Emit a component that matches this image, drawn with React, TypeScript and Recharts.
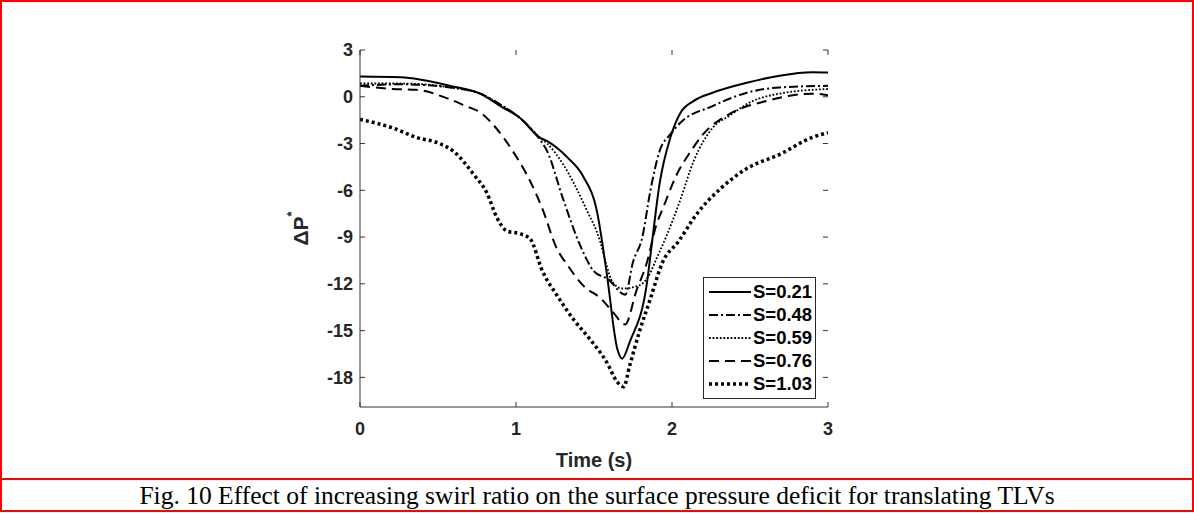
import React from "react";
import { LineChart, Line, XAxis, YAxis, Legend, ReferenceLine } from "recharts";

// S = 0.21 (solid)
const t021 = [0, 0.26, 0.58, 0.77, 0.9, 1.03, 1.15, 1.2, 1.33, 1.43, 1.52, 1.58, 1.65, 1.68, 1.73, 1.84, 1.87, 1.92, 1.99, 2.05, 2.14, 2.26, 2.48, 2.69, 2.9, 3];
const p021 = [1.3, 1.25, 0.7, 0.2, -0.6, -1.4, -2.6, -2.85, -3.9, -5.1, -7.4, -11.2, -16.2, -16.8, -15.7, -11.9, -9.5, -5.6, -2.6, -1.1, -0.26, 0.26, 0.9, 1.35, 1.57, 1.55];

// S = 0.48 (dash-dot)
const t048 = [0, 0.26, 0.58, 0.77, 0.9, 1.03, 1.15, 1.2, 1.3, 1.41, 1.5, 1.59, 1.7, 1.75, 1.81, 1.86, 1.92, 1.99, 2.05, 2.26, 2.48, 2.69, 3];
const p048 = [0.7, 0.8, 0.6, 0.2, -0.5, -1.4, -2.7, -3.5, -6.5, -9.5, -11.2, -11.7, -12.7, -10.6, -9.0, -6.1, -3.5, -2.4, -1.7, -0.6, 0.26, 0.6, 0.7];

// S = 0.59 (dotted)
const t059 = [0, 0.26, 0.58, 0.77, 0.9, 1.03, 1.15, 1.2, 1.3, 1.45, 1.54, 1.58, 1.62, 1.68, 1.79, 1.85, 1.9, 1.97, 2.05, 2.14, 2.26, 2.37, 2.52, 2.69, 3];
const p059 = [0.85, 0.85, 0.6, 0.2, -0.5, -1.4, -2.6, -3.0, -4.3, -7.2, -9.3, -10.8, -11.9, -12.3, -12.1, -11.5, -10.4, -8.8, -6.7, -4.1, -2.0, -1.2, -0.26, 0.2, 0.5];

// S = 0.76 (dashed)
const t076 = [0, 0.21, 0.36, 0.56, 0.68, 0.77, 0.88, 0.98, 1.09, 1.17, 1.26, 1.33, 1.43, 1.55, 1.62, 1.7, 1.77, 1.84, 1.9, 1.94, 2.03, 2.12, 2.2, 2.37, 2.61, 2.9, 3];
const p076 = [0.7, 0.5, 0.45, -0.1, -0.6, -1.0, -2.1, -3.5, -5.4, -7.2, -9.7, -10.8, -12.1, -13.0, -13.8, -14.6, -12.5, -10.6, -8.2, -7.2, -5.0, -3.5, -2.4, -1.1, -0.26, 0.2, 0.1];

// S = 1.03 (heavy dotted)
const t103 = [0, 0.21, 0.36, 0.51, 0.6, 0.73, 0.81, 0.88, 0.94, 1.03, 1.09, 1.17, 1.26, 1.37, 1.47, 1.58, 1.65, 1.69, 1.73, 1.79, 1.86, 1.94, 2.04, 2.16, 2.31, 2.48, 2.69, 2.9, 3];
const p103 = [-1.45, -2.0, -2.6, -3.0, -3.5, -5.0, -6.1, -7.8, -8.6, -8.8, -9.1, -11.2, -12.7, -14.3, -15.5, -17.0, -18.3, -18.6, -17.2, -15.1, -13.0, -10.6, -9.3, -7.5, -5.9, -4.6, -3.7, -2.6, -2.3];

const xTicks = [0, 1, 2, 3];
const yTicks = [3, 0, -3, -6, -9, -12, -15, -18];
const X_DOMAIN: [number, number] = [0, 3];
const Y_DOMAIN: [number, number] = [-19.9, 3];

const toRows = (t: number[], p: number[]) => t.map((v, i) => ({ t: v, p: p[i] }));

const series = [
    { name: "S=0.21", data: toRows(t021, p021), width: 2, dash: undefined as string | undefined },
    { name: "S=0.48", data: toRows(t048, p048), width: 2, dash: "9 3 2 3" },
    { name: "S=0.59", data: toRows(t059, p059), width: 1.8, dash: "1.8 1.8" },
    { name: "S=0.76", data: toRows(t076, p076), width: 2, dash: "10 6" },
    { name: "S=1.03", data: toRows(t103, p103), width: 3.5, dash: "3 3" },
];

const AXIS = "#333333";
const tickStyle = { fill: "#262626", fontSize: 18, fontWeight: 700, fontFamily: "'Liberation Sans', Arial, sans-serif" };

// inward (MATLAB style) tick marks, length in data units (~5px)
const xTickLen = 0.32;
const yTickLen = 0.032;
const tickSegments = [
    ...xTicks.map((t) => [{ x: t, y: Y_DOMAIN[0] }, { x: t, y: Y_DOMAIN[0] + xTickLen }]),
    ...xTicks.map((t) => [{ x: t, y: Y_DOMAIN[1] }, { x: t, y: Y_DOMAIN[1] - xTickLen }]),
    ...yTicks.map((v) => [{ x: X_DOMAIN[0], y: v }, { x: X_DOMAIN[0] + yTickLen, y: v }]),
    ...yTicks.map((v) => [{ x: X_DOMAIN[1], y: v }, { x: X_DOMAIN[1] - yTickLen, y: v }]),
];

const LegendBox = () => (
    <div
        style={{
            border: "1px solid #262626",
            background: "#fff",
            padding: "2px 3px 3px 4px",
            fontFamily: "'Liberation Sans', Arial, sans-serif",
            fontWeight: 700,
            fontSize: 18.5,
            color: "#000",
        }}
    >
        {series.map((s) => (
            <div key={s.name} style={{ display: "flex", alignItems: "center", height: 23 }}>
                <svg width={44} height={10} style={{ marginRight: 1 }}>
                    <line x1={1} y1={5} x2={43} y2={5} stroke="#000" strokeWidth={s.width} strokeDasharray={s.dash} />
                </svg>
                <span>{s.name}</span>
            </div>
        ))}
    </div>
);

const YLabel = (props: any) => {
    const { x, y, height } = props.viewBox;
    const cx = x;
    const cy = y + height / 2;
    return (
        <text
            x={cx}
            y={cy}
            transform={`rotate(-90, ${cx}, ${cy})`}
            textAnchor="middle"
            dominantBaseline="central"
            style={{ ...tickStyle, fontSize: 21 }}
        >
            <tspan>ΔP</tspan>
            <tspan dy={-9} fontSize={13}>*</tspan>
        </text>
    );
};

export default function App() {
    return (
        <div
            style={{
                position: "relative",
                width: 1194,
                height: 512,
                boxSizing: "border-box",
                border: "2px solid #ff0000",
                background: "#fff",
            }}
        >
            <style>{`body{margin:0}`}</style>
            <LineChart width={1190} height={476} margin={{ top: 48, right: 364, bottom: 41, left: 298 }}>
                <XAxis
                    type="number"
                    dataKey="t"
                    domain={X_DOMAIN}
                    ticks={xTicks}
                    allowDataOverflow
                    height={30}
                    tickLine={false}
                    tickSize={-5}
                    tickMargin={20}
                    stroke={AXIS}
                    tick={tickStyle}
                    label={{
                        value: "Time (s)",
                        position: "bottom",
                        offset: 16,
                        style: { ...tickStyle, fontSize: 20 },
                    }}
                />
                <YAxis
                    type="number"
                    domain={Y_DOMAIN}
                    ticks={yTicks}
                    allowDataOverflow
                    width={60}
                    tickLine={false}
                    tickSize={-5}
                    tickMargin={12}
                    stroke={AXIS}
                    tick={tickStyle}
                    label={YLabel}
                />
                {/* box: top and right edges */}
                <XAxis xAxisId="top" orientation="top" type="number" domain={X_DOMAIN} height={0} tick={false} tickLine={false} stroke={AXIS} />
                <YAxis yAxisId="right" orientation="right" type="number" domain={Y_DOMAIN} width={0} tick={false} tickLine={false} stroke={AXIS} />
                {tickSegments.map((seg, i) => (
                    <ReferenceLine key={`tk${i}`} segment={seg} stroke={AXIS} strokeWidth={1} ifOverflow="visible" />
                ))}
                {series.map((s) => (
                    <Line
                        key={s.name}
                        data={s.data}
                        dataKey="p"
                        name={s.name}
                        type="monotone"
                        stroke="#000"
                        strokeWidth={s.width}
                        strokeDasharray={s.dash}
                        dot={false}
                        activeDot={false}
                        isAnimationActive={false}
                    />
                ))}
                <Legend
                    layout="horizontal"
                    verticalAlign="middle"
                    align="center"
                    content={<LegendBox />}
                    wrapperStyle={{ left: 701, top: 275, width: "auto", height: "auto" }}
                />
            </LineChart>
            <div
                style={{
                    position: "absolute",
                    left: 0,
                    right: 0,
                    top: 476,
                    height: 30,
                    borderTop: "2px solid #ff0000",
                    textAlign: "center",
                    fontFamily: "'Liberation Serif', 'Times New Roman', serif",
                    fontSize: 25.5,
                    lineHeight: "31px",
                    color: "#000",
                }}
            >
                Fig. 10 Effect of increasing swirl ratio on the surface pressure deficit for translating TLVs
            </div>
        </div>
    );
}
